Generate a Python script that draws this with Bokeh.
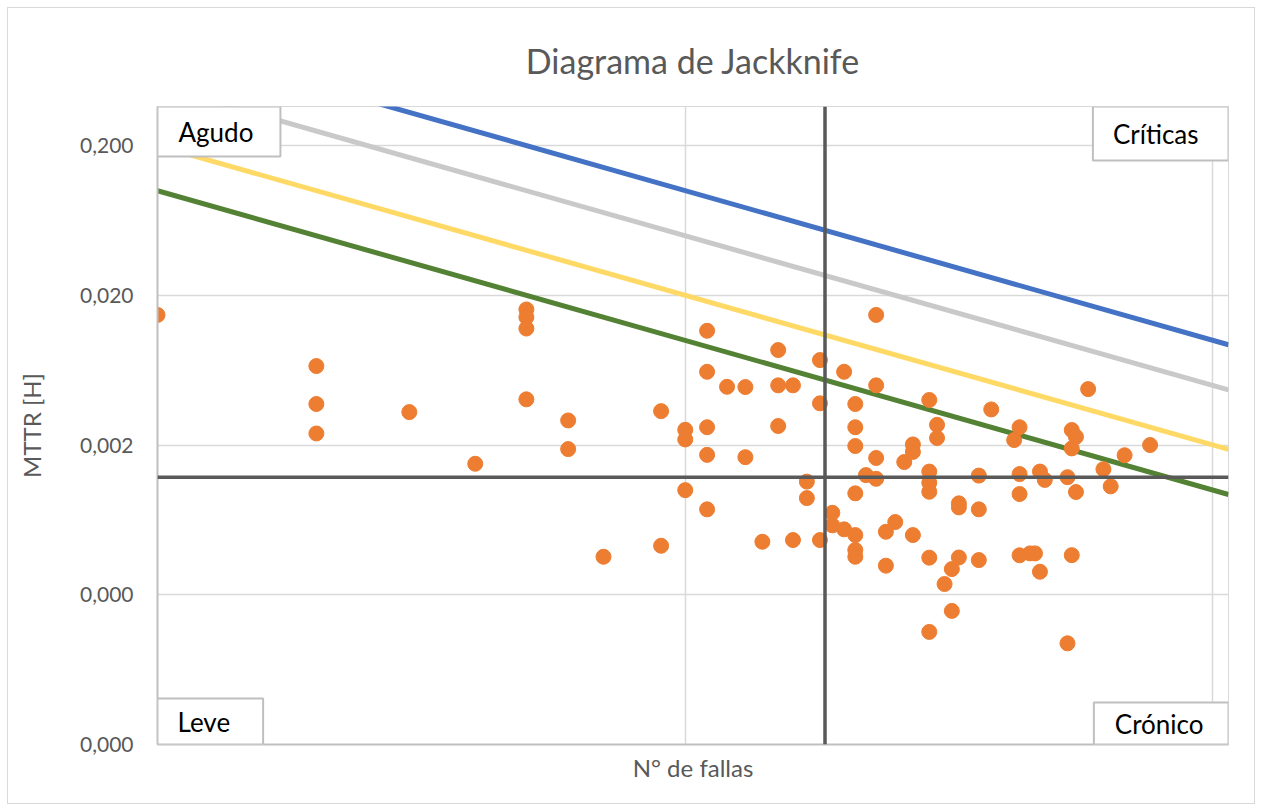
from bokeh.plotting import figure
from bokeh.models import Range1d, FixedTicker, Span, Label, CustomJSTickFormatter
from bokeh.embed import file_html
from bokeh.resources import INLINE

# ---- data ----
fallas = [1,
          2, 2, 2,
          3,
          4,
          5, 5, 5, 5,
          6, 6,
          7,
          9, 9,
          10, 10, 10,
          11, 11, 11, 11, 11,
          12,
          13, 13,
          14,
          15, 15, 15,
          16, 16,
          17, 17,
          18, 18, 18,
          19, 19,
          20, 20,
          21, 21, 21, 21, 21, 21, 21,
          22,
          23, 23, 23, 23,
          24, 24,
          25,
          26,
          27, 27, 27,
          29, 29, 29, 29, 29, 29,
          30, 30,
          31,
          32, 32,
          33, 33, 33,
          36, 36, 36,
          38,
          42,
          43, 43, 43, 43,
          45,
          46,
          47, 47,
          48,
          53, 53,
          54, 54, 54,
          55, 55,
          58,
          62,
          64,
          68,
          76]
mttr = [0.0148,
        0.00674, 0.00376, 0.00239,
        0.00332,
        0.00150,
        0.0161, 0.0143, 0.0120, 0.00404,
        0.00292, 0.00188,
        0.000359,
        0.00337, 0.000425,
        0.00253, 0.00218, 0.00100,
        0.0116, 0.00617, 0.00263, 0.00172, 0.000744,
        0.00490,
        0.00488, 0.00166,
        0.000452,
        0.00862, 0.00501, 0.00268,
        0.00501, 0.000464,
        0.00114, 0.000885,
        0.00739, 0.00380, 0.000464,
        0.000706, 0.000582,
        0.00617, 0.000547,
        0.00376, 0.00263, 0.00197, 0.000952, 0.000501, 0.000398, 0.000359,
        0.00126,
        0.0148, 0.00501, 0.00164, 0.00119,
        0.000527, 0.000313,
        0.000612,
        0.00154,
        0.00202, 0.00180, 0.000501,
        0.00400, 0.00133, 0.00112, 0.000975, 0.000354, 0.000113,
        0.00273, 0.00223,
        0.000236,
        0.000297, 0.000156,
        0.000816, 0.000767, 0.000355,
        0.00125, 0.000744, 0.000341,
        0.00346,
        0.00216,
        0.00263, 0.00128, 0.000942, 0.000367,
        0.000378,
        0.000378,
        0.00133, 0.000285,
        0.00117,
        0.00122, 0.0000948,
        0.00252, 0.00190, 0.000368,
        0.00227, 0.000971,
        0.00473,
        0.00138,
        0.00106,
        0.00171,
        0.00200]

# iso-downtime lines (end points)
iso_n = [1, 107]
iso_1h = [1.0, 0.00935]
iso_05h = [0.5, 0.00467]
iso_02h = [0.2, 0.00187]
iso_01h = [0.1, 0.000935]

# thresholds
umbral_n = 18.4
umbral_mttr = 0.00122

y_ticks = [0.00002, 0.0002, 0.002, 0.02, 0.2]
y_labels = ["0,000", "0,000", "0,002", "0,020", "0,200"]
x_ticks = [1, 10, 100]

FONT = "Lato"
GREY_TXT = "#595959"

p = figure(width=1246, height=795, x_axis_type="log", y_axis_type="log",
           x_range=Range1d(1, 107), y_range=Range1d(0.00002, 0.365),
           output_backend="svg", toolbar_location=None,
           min_border_left=149, min_border_right=26,
           min_border_top=98, min_border_bottom=59,
           margin=(8, 8, 8, 8),
           title="Diagrama de Jackknife")
p.styles = {"outline": "1px solid #d9d9d9"}

p.title.align = "center"
p.title.text_font = FONT
p.title.text_font_size = "34px"
p.title.text_font_style = "normal"
p.title.text_color = GREY_TXT
p.title.standoff = 52

p.outline_line_color = "#d9d9d9"
p.background_fill_color = "white"
p.border_fill_color = "white"

# y axis
p.yaxis.ticker = FixedTicker(ticks=y_ticks)
p.yaxis.formatter = CustomJSTickFormatter(args=dict(yt=y_ticks, yl=y_labels), code="""
for (let i = 0; i < yt.length; i++) { if (Math.abs(tick / yt[i] - 1) < 1e-6) return yl[i]; }
return "";
""")
p.yaxis.axis_line_color = "#bfbfbf"
p.yaxis.axis_line_width = 2
p.yaxis.major_tick_line_color = None
p.yaxis.minor_tick_line_color = None
p.yaxis.major_label_text_font = FONT
p.yaxis.major_label_text_font_size = "21px"
p.yaxis.major_label_text_color = GREY_TXT
p.yaxis.major_label_standoff = 18
p.yaxis.axis_label = "MTTR [H]"
p.yaxis.axis_label_text_font = FONT
p.yaxis.axis_label_text_font_size = "24px"
p.yaxis.axis_label_text_font_style = "normal"
p.yaxis.axis_label_text_color = GREY_TXT
p.yaxis.axis_label_standoff = 31

# x axis
p.xaxis.ticker = FixedTicker(ticks=x_ticks)
p.xaxis.formatter = CustomJSTickFormatter(code="return '';")
p.xaxis.axis_line_color = "#bfbfbf"
p.xaxis.axis_line_width = 2
p.xaxis.major_tick_line_color = None
p.xaxis.minor_tick_line_color = None
p.xaxis.major_label_text_font_size = "1px"
p.xaxis.axis_label = "N° de fallas"
p.xaxis.axis_label_text_font = FONT
p.xaxis.axis_label_text_font_size = "24px"
p.xaxis.axis_label_text_font_style = "normal"
p.xaxis.axis_label_text_color = GREY_TXT
p.xaxis.axis_label_standoff = 2

p.ygrid.ticker = FixedTicker(ticks=y_ticks)
p.xgrid.ticker = FixedTicker(ticks=x_ticks)
p.grid.grid_line_color = "#d9d9d9"
p.grid.grid_line_width = 1.5
p.ygrid.minor_grid_line_color = None

# threshold lines
p.add_layout(Span(location=umbral_mttr, dimension="width", line_color="#595959", line_width=3.5))
p.add_layout(Span(location=umbral_n, dimension="height", line_color="#595959", line_width=3.5))

# iso lines
p.line(iso_n, iso_1h, line_color="#4472C4", line_width=5)
p.line(iso_n, iso_05h, line_color="#C9C9C9", line_width=5)
p.line(iso_n, iso_02h, line_color="#FFD966", line_width=5)
p.line(iso_n, iso_01h, line_color="#548235", line_width=5)

# points
p.scatter(fallas, mttr, size=15, fill_color="#ED7D31", line_color="#ED7D31")

# quadrant boxes
def box(text, x, y, anchor, pad):
    l, r, t, b = pad
    return Label(x=x, y=y, text=text, anchor=anchor,
                 text_font=FONT, text_font_size="26px", text_color="black",
                 background_fill_color="white", border_line_color="#bfbfbf", border_line_width=2,
                 padding=dict(left=l, right=r, top=t, bottom=b))

p.add_layout(box("Agudo", 1, 0.365, "top_left", (21, 27, 9, 9)))
p.add_layout(box("Críticas", 107, 0.365, "top_right", (20, 30, 11, 11)))
p.add_layout(box("Leve", 1, 0.00002, "bottom_left", (20, 33, 7, 7)))
p.add_layout(box("Crónico", 107, 0.00002, "bottom_right", (21, 25, 5, 5)))

open("out.html", "w").write(file_html(p, INLINE))
